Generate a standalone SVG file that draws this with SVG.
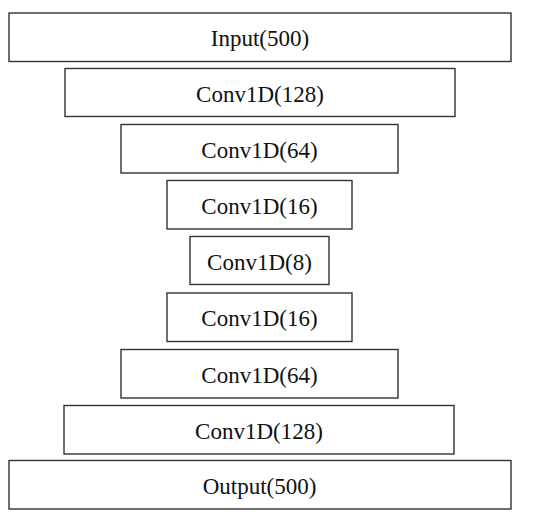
<svg xmlns="http://www.w3.org/2000/svg" width="550" height="520" viewBox="0 0 550 520">
<style>
rect{fill:#fff;stroke:#333;stroke-width:1.4}
text{font-family:"Liberation Serif","Times New Roman",serif;font-size:23px;fill:#111;text-anchor:middle}
</style>
<rect x="0" y="0" width="550" height="520" style="stroke:none"/>
<g id="input"><rect x="9" y="13" width="502" height="48.5"/><text x="260" y="46">Input(500)</text></g>
<g id="conv128a"><rect x="65" y="68.5" width="390" height="48"/><text x="260" y="101.5">Conv1D(128)</text></g>
<g id="conv64a"><rect x="121" y="124.5" width="277" height="48.5"/><text x="259.5" y="157.5">Conv1D(64)</text></g>
<g id="conv16a"><rect x="167" y="180.5" width="185" height="48.5"/><text x="259.5" y="213.5">Conv1D(16)</text></g>
<g id="conv8"><rect x="190" y="236.5" width="139" height="48"/><text x="259.5" y="269.5">Conv1D(8)</text></g>
<g id="conv16b"><rect x="167" y="293" width="185" height="48.5"/><text x="259.5" y="326">Conv1D(16)</text></g>
<g id="conv64b"><rect x="121" y="349.5" width="277" height="48.5"/><text x="259.5" y="382.5">Conv1D(64)</text></g>
<g id="conv128b"><rect x="64" y="405.5" width="390" height="48.5"/><text x="259" y="438.5">Conv1D(128)</text></g>
<g id="output"><rect x="9" y="460.5" width="502" height="48.5"/><text x="259.5" y="494">Output(500)</text></g>
<g id="connectors"></g>
</svg>
